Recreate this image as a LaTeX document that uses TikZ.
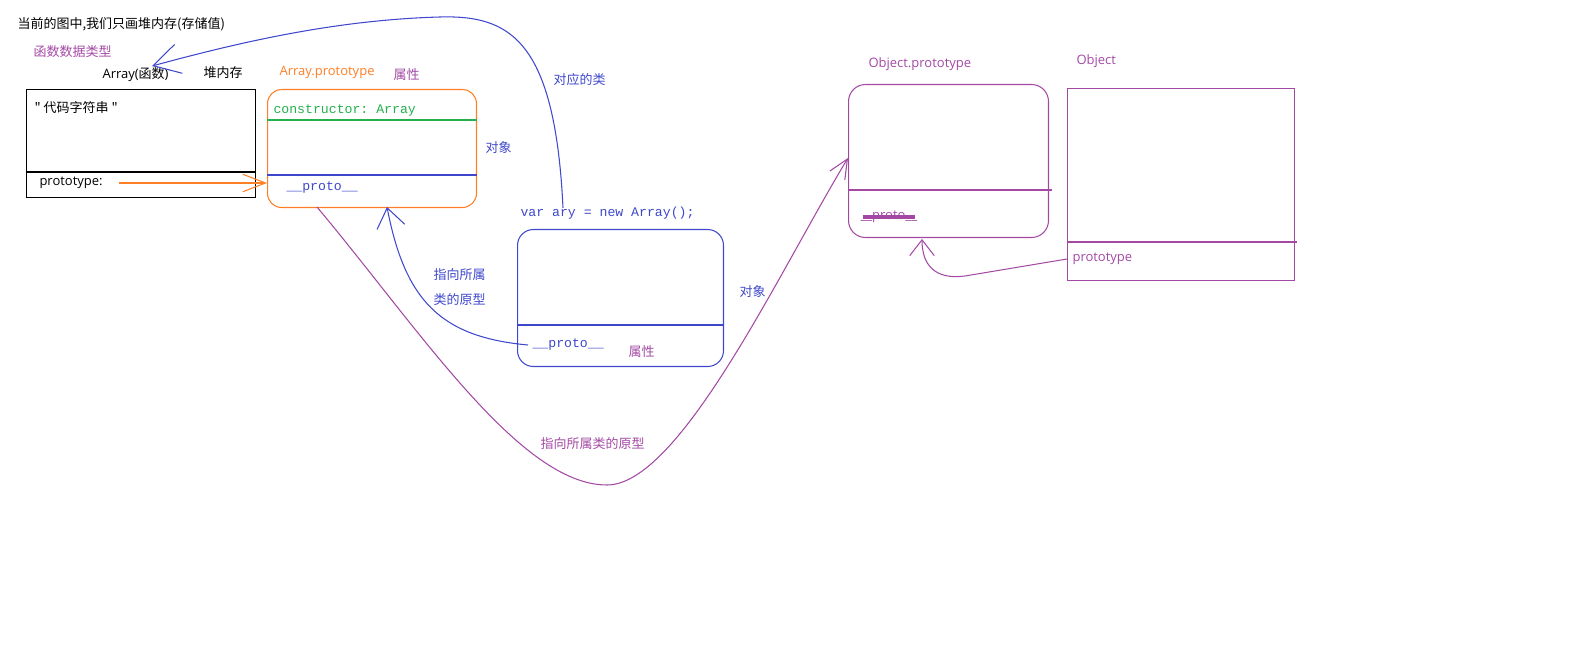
\documentclass[tikz,border=0pt]{standalone}
\usepackage{fontspec}
\setmainfont{Open Sans}
\setmonofont{Liberation Mono}
\newfontfamily\cjk{Noto Sans CJK SC}
\usetikzlibrary{arrows.meta}
\definecolor{pblue}{HTML}{3F48CC}
\definecolor{porange}{HTML}{FF7F27}
\definecolor{ppurple}{HTML}{A349A4}
\definecolor{pgreen}{HTML}{22B14C}

\begin{document}
\begin{tikzpicture}[x=0.02cm, y=-0.02cm, line width=0.6pt, font=\fontsize{7.4}{9}\selectfont]
	\tikzstyle{lbl}   = [inner sep=0pt, anchor=west]
	\tikzstyle{code}  = [inner sep=0pt, anchor=base west, font=\ttfamily\fontsize{7.5}{9}\selectfont]
	\tikzstyle{box}   = [draw, rectangle, inner sep=0pt, anchor=north west]
	\tikzstyle{tipA}  = [-{Straight Barb[length=15pt, width=17pt]}]
	\tikzstyle{tipB}  = [-{Straight Barb[length=11pt, width=16pt]}]
	\tikzstyle{tipC}  = [-{Straight Barb[length=11pt, width=10pt]}]
	\tikzstyle{tipD}  = [-{Straight Barb[length=9pt, width=14pt]}]
	\tikzstyle{tipE}  = [-{Straight Barb[length=13pt, width=10pt]}]

	\useasboundingbox (0,0) rectangle (1586,648);
%	\draw[step=100, gray!30] (0,0) grid (1586,648);

	% boxes
	\node[box, draw=black, minimum width=4.58cm, minimum height=2.16cm] (fn) at (26,89) {};
	\node[box, draw=porange, rounded corners=8pt, minimum width=4.18cm, minimum height=2.36cm] (pb) at (267,89) {};
	\node[box, draw=pblue, rounded corners=9pt, minimum width=4.12cm, minimum height=2.74cm] (ab) at (517,229) {};
	\node[box, draw=ppurple, rounded corners=9.6pt, minimum width=4cm, minimum height=3.06cm] (opb) at (848,84) {};
	\node[box, draw=ppurple, minimum width=4.54cm, minimum height=3.84cm] (ob) at (1067,88) {};

	\draw (fn.west |- 0,172) -- (fn.east |- 0,172);
	\draw[pgreen] (pb.west |- 0,120) -- (pb.east |- 0,120);
	\draw[pblue] (pb.west |- 0,175) -- (pb.east |- 0,175);
	\draw[pblue] (ab.west |- 0,325) -- (ab.east |- 0,325);
	\draw[ppurple] (opb.west |- 0,190) -- ([xshift=1.5pt]opb.east |- 0,190);
	\draw[ppurple] (ob.west |- 0,242) -- ([xshift=1pt]ob.east |- 0,242);

	% texts
	\node[lbl] (title) at (17,24) {\cjk 当前的图中,我们只画堆内存(存储值)};
	\node[lbl, ppurple] (fntype) at (33,52) {\cjk 函数数据类型};
	\node[lbl] (fnname) at (102,75) {Array({\cjk 函数})};
	\node[lbl] (heap) at (203,73) {\cjk 堆内存};
	\node[lbl, porange] (pbname) at (279,72) {Array.prototype};
	\node[lbl] (fncode) at (34,108) {\cjk " 代码字符串 "};
	\node[lbl] (fnproto) at (39,183) {prototype:};
	\node[code, pgreen] (ctor) at (273,114) {constructor: Array};
	\node[code, pblue] (pbproto) at (286,191) {\_\_proto\_\_};
	\node[code, pblue] (vary) at (520,217) {var ary = new Array();};
	\node[code, pblue] (abproto) at (532,348) {\_\_proto\_\_};
	\node[lbl, pblue] (leiof) at (553,80) {\cjk 对应的类};
	\node[lbl, pblue] (pointA) at (433,275) {\cjk 指向所属};
	\node[lbl, pblue] (pointB) at (433,300) {\cjk 类的原型};
	\node[lbl, ppurple] (pointC) at (540,444) {\cjk 指向所属类的原型};
	\node[lbl, ppurple] (opbname) at (868,64) {Object.prototype};
	\node[lbl, ppurple] (obname) at (1076,61) {Object};
	\node[lbl, ppurple] (obproto) at (1072,259) {prototype};
	\node[lbl, ppurple] (opbproto) at (860,217) {\_\_proto\_\_};
	\draw[ppurple, line width=1.8pt, shorten <=1.5pt, shorten >=1.5pt] (opbproto.west) -- (opbproto.east);

	\foreach \name/\x/\y/\col/\txt in {attrA/393/75/ppurple/属性, attrB/628/352/ppurple/属性, objA/485/148/pblue/对象, objB/739/292/pblue/对象}
		\node[lbl, \col] (\name) at (\x, \y) {\cjk \txt};

	% connectors
	\coordinate (ptail) at (119,183);
	\coordinate (vtop) at (563,208);
	\coordinate (fntip) at (152,66);
	\coordinate (aptail) at (528,345);
	\coordinate (pbtip) at (387,207);
	\coordinate (pbtail) at (317,207);
	\coordinate (opbtip) at (848,158);
	\coordinate (obtail) at (1067,259);
	\coordinate (opbtip2) at (922,239);

	\draw[porange, tipE] (ptail) -- (pb.west |- ptail);
	\draw[pblue, tipA] (vtop) .. controls (555,40) and (510,15) .. (440,17) .. controls (330,20) and (230,45) .. (fntip);
	\draw[pblue, tipB] (aptail) .. controls (440,337) and (405,300) .. (pbtip);
	\draw[ppurple, tipC] (pbtail) .. controls (420,330) and (520,485) .. (607,485) .. controls (680,485) and (780,270) .. (opbtip);
	\draw[ppurple, tipD] (obtail) -- (965,276) .. controls (935,280) and (922,265) .. (opbtip2);
\end{tikzpicture}
\end{document}
